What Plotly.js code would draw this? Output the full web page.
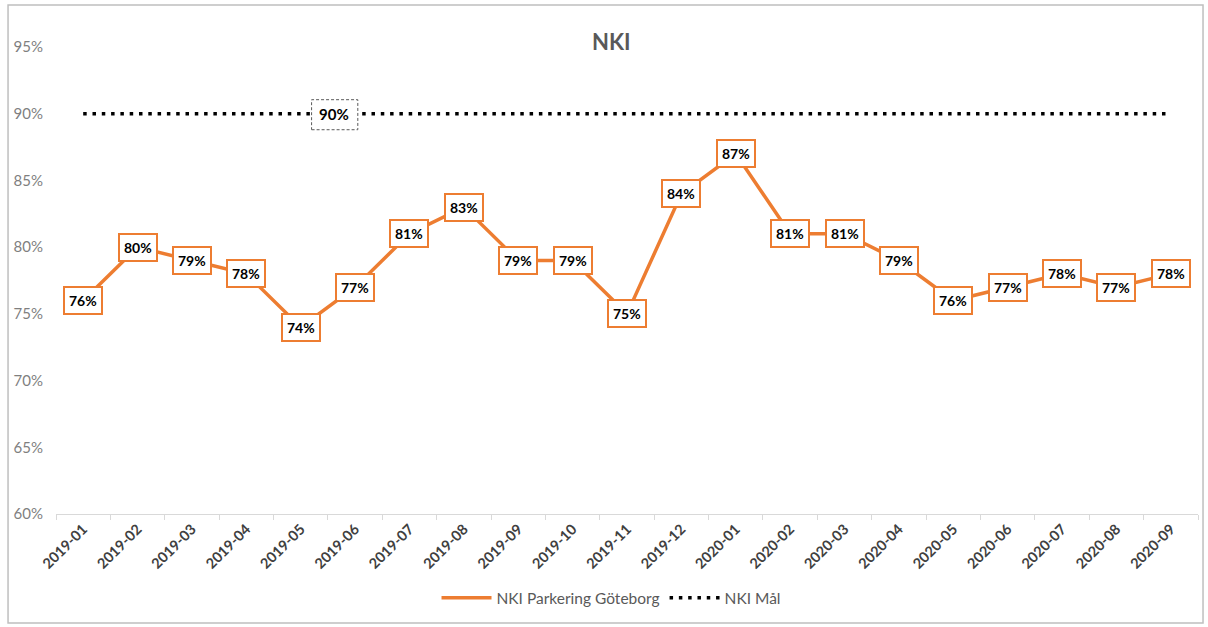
<!DOCTYPE html>
<html>
<head>
<meta charset="utf-8">
<script src="https://cdn.plot.ly/plotly-3.0.1.min.js"></script>
<style>
  html, body { margin: 0; padding: 0; background: #ffffff; }
  #chart { width: 1208px; height: 627px; }
</style>
</head>
<body>
<div id="chart"></div>
<script>
// ---- data ----
const months = ["2019-01","2019-02","2019-03","2019-04","2019-05","2019-06","2019-07","2019-08","2019-09","2019-10","2019-11","2019-12","2020-01","2020-02","2020-03","2020-04","2020-05","2020-06","2020-07","2020-08","2020-09"];
const nkiParkering = [76,80,79,78,74,77,81,83,79,79,75,84,87,81,81,79,76,77,78,77,78];
const nkiMal = [90,90,90,90,90,90,90,90,90,90,90,90,90,90,90,90,90,90,90,90,90];
const seriesNames = ["NKI Parkering Göteborg", "NKI Mål"];
const chartTitle = "NKI";
const yTicks = [60,65,70,75,80,85,90,95];

const FONT = "Lato, 'Liberation Sans', Arial, sans-serif";
const ORANGE = "#ED7D31";

const traces = [
  {
    type: "scatter", mode: "lines", name: seriesNames[0],
    x: months, y: nkiParkering,
    line: { color: ORANGE, width: 3.5 },
    hoverinfo: "skip"
  },
  {
    type: "scatter", mode: "lines", name: seriesNames[1],
    x: months, y: nkiMal,
    line: { color: "#000000", width: 3.5, dash: "3.5px,5.8px" },
    hoverinfo: "skip"
  }
];

// data-label annotations built from the series
const annotations = months.map((m, i) => ({
  x: m, y: nkiParkering[i], xref: "x", yref: "y",
  text: "<b>" + nkiParkering[i] + "%</b>",
  showarrow: false,
  font: { family: FONT, size: 14, color: "#000000" },
  bgcolor: "#ffffff",
  bordercolor: ORANGE,
  borderwidth: 2,
  borderpad: 4
}));

// target label
annotations.push({
  x: 4.62, y: nkiMal[4], xref: "x", yref: "y",
  text: "<b>" + nkiMal[4] + "%</b>",
  showarrow: false,
  font: { family: FONT, size: 15, color: "#000000" }
});

const layout = {
  width: 1208, height: 627,
  paper_bgcolor: "#ffffff", plot_bgcolor: "#ffffff",
  margin: { l: 56, r: 10, t: 47, b: 113 },
  title: {
    text: "<b>" + chartTitle + "</b>",
    x: 0.506, xref: "container", xanchor: "center",
    y: 0.933, yref: "container", yanchor: "middle",
    font: { family: FONT, size: 22, color: "#595959" }
  },
  xaxis: {
    type: "category",
    range: [-0.5, months.length - 0.5],
    showline: true, linecolor: "#d9d9d9", linewidth: 1,
    ticks: "outside", tickson: "boundaries", ticklen: 5, tickcolor: "#d9d9d9",
    showgrid: false, zeroline: false,
    tickangle: -45,
    tickfont: { family: FONT, size: 14.5, color: "#404040", weight: "bold" },
    fixedrange: true
  },
  yaxis: {
    range: [60, 95],
    tickvals: yTicks,
    ticktext: yTicks.map(v => v + "%"),
    showgrid: false, zeroline: false, showline: false,
    ticks: "",
    ticklabelstandoff: 12,
    tickfont: { family: FONT, size: 15, color: "#7f7f7f" },
    fixedrange: true
  },
  showlegend: true,
  legend: {
    orientation: "h",
    x: 0.486, xanchor: "center",
    y: -0.18, yanchor: "middle",
    font: { family: FONT, size: 15.5, color: "#595959" },
    itemwidth: 50
  },
  annotations: annotations,
  shapes: [
    // dashed box behind target label
    {
      type: "rect", xref: "x", yref: "y", layer: "above",
      x0: 4.2, x1: 5.05, y0: 88.8, y1: 91.05,
      fillcolor: "#ffffff",
      line: { color: "#595959", width: 1, dash: "3px,2px" }
    },
    // outer chart frame
    {
      type: "rect", xref: "paper", yref: "paper", layer: "below",
      x0: -0.042, x1: 1.0044, y0: -0.2334, y1: 1.0899,
      line: { color: "#bfbfbf", width: 1.5 }
    }
  ]
};

Plotly.newPlot("chart", traces, layout, { displayModeBar: false, staticPlot: true });
</script>
</body>
</html>
